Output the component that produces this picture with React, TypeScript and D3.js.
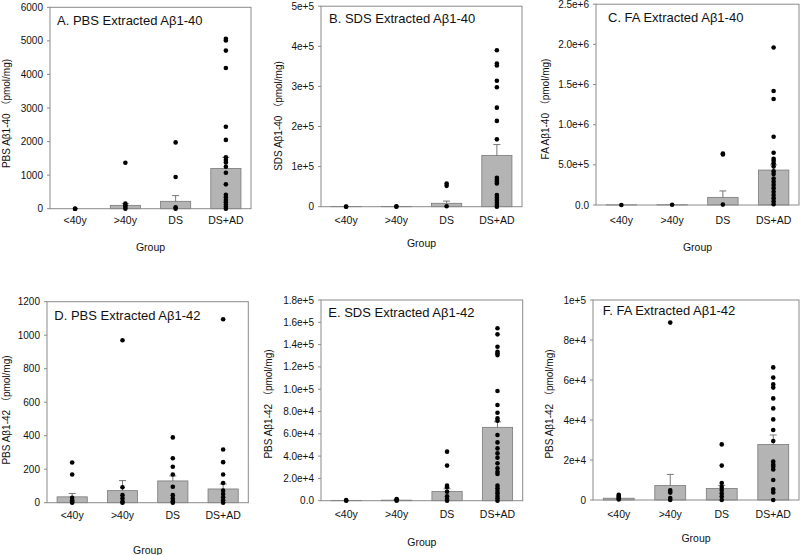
import React from "react";
import * as d3 from "d3";

// ---------- data ----------
const groups = ["<40y", ">40y", "DS", "DS+AD"];

// A. PBS Aβ1-40
const pbs40Means = [0, 100, 220, 1200];
const pbs40Sem = [0, 50, 170, 330];
const pbs40Points = [
  [0, 0, 0],
  [1370, 150, 100, 50, 0],
  [1975, 945, 40, 0],
  [5060, 5010, 4710, 4190, 2440, 2050, 1530, 1450, 1380, 1250, 1070, 725, 415, 340, 260, 190, 120, 60, 0],
];
const pbs40Ticks = [0, 1000, 2000, 3000, 4000, 5000, 6000];

// B. SDS Aβ1-40
const sds40Means = [500, 800, 8500, 128000];
const sds40Sem = [0, 0, 5500, 27000];
const sds40Points = [
  [0, 500],
  [1000, 0],
  [58000, 52000, 1000],
  [390000, 357000, 352000, 314000, 298000, 247000, 214000, 168000, 72000, 67000, 63000, 58000, 29000, 23000, 17000, 10000, 4000, 0],
];
const sds40Ticks = [0, 1e5, 2e5, 3e5, 4e5, 5e5];

// C. FA Aβ1-40
const fa40Means = [2000, 3000, 95000, 435000];
const fa40Sem = [0, 0, 80000, 65000];
const fa40Points = [
  [0],
  [3000],
  [640000, 630000, 5000],
  [1960000, 1420000, 1320000, 850000, 650000, 575000, 550000, 520000, 480000, 420000, 385000, 330000, 290000, 250000, 210000, 165000, 125000, 85000, 45000, 10000],
];
const fa40Ticks = [0, 5e5, 1e6, 1.5e6, 2e6, 2.5e6];

// D. PBS Aβ1-42
const pbs42Means = [35, 72, 130, 82];
const pbs42Sem = [20, 60, 30, 30];
const pbs42Points = [
  [240, 168, 30, 15, 5, 0],
  [970, 92, 45, 25, 5, 0],
  [390, 265, 215, 168, 95, 45, 25, 8, 0],
  [1095, 318, 242, 168, 118, 72, 52, 32, 15, 0],
];
const pbs42Ticks = [0, 200, 400, 600, 800, 1000, 1200];

// E. SDS Aβ1-42
const sds42Means = [300, 500, 8200, 65800];
const sds42Sem = [0, 100, 2500, 5000];
const sds42Points = [
  [500, 0],
  [1500, 800, 0],
  [44000, 31500, 13500, 12000, 8000, 4000, 1500, 0],
  [154600, 149200, 138100, 133600, 132100, 130600, 98400, 85800, 78900, 73800, 71700, 58900, 52300, 46900, 42500, 38600, 33500, 29000, 26000, 23900, 13500, 11100, 8700, 6600, 4200, 2100, 0],
];
const sds42Ticks = [0, 2e4, 4e4, 6e4, 8e4, 1e5, 1.2e5, 1.4e5, 1.6e5, 1.8e5];

// F. FA Aβ1-42
const fa42Means = [900, 7200, 5800, 27800];
const fa42Sem = [0, 5600, 1500, 4700];
const fa42Points = [
  [2600, 2000, 1500, 800, 300],
  [88700, 4800, 3700, 1000, 0],
  [27800, 17200, 8500, 6500, 5000, 3300, 1700, 0],
  [66300, 61200, 57800, 56200, 50800, 45800, 40300, 35000, 29500, 19200, 17800, 16700, 15300, 10000, 5300, 3800, 0],
];
const fa42Ticks = [0, 2e4, 4e4, 6e4, 8e4, 1e5];

// ---------- formatting ----------
const fmtInt = (v: number) => d3.format("d")(v);
const fmtExp0 = (v: number) => (v === 0 ? "0" : v.toExponential(0));
const fmtExp1 = (v: number) => (v === 0 ? "0.0" : v.toExponential(1));

const FONT = "'Liberation Sans', Arial, 'Noto Sans CJK SC', sans-serif";

type PanelSpec = {
  title: string;
  ylabel: string;
  means: number[];
  sem: number[];
  points: number[][];
  ticks: number[];
  fmt: (v: number) => string;
  box: { l: number; r: number; t: number; b: number };
  titlePos: [number, number];
  ylabPos: [number, number];
  catY: number;
  groupY: number;
};

const panels: PanelSpec[] = [
  {
    title: "A. PBS Extracted Aβ1-40", ylabel: "PBS Aβ1-40 （pmol/mg)",
    means: pbs40Means, sem: pbs40Sem, points: pbs40Points, ticks: pbs40Ticks, fmt: fmtInt,
    box: { l: 50, r: 251, t: 7.3, b: 208.7 }, titlePos: [57, 25], ylabPos: [6, 113.5], catY: 223.5, groupY: 250.5,
  },
  {
    title: "B. SDS Extracted Aβ1-40", ylabel: "SDS Aβ1-40 （pmol/mg)",
    means: sds40Means, sem: sds40Sem, points: sds40Points, ticks: sds40Ticks, fmt: fmtExp0,
    box: { l: 321, r: 522, t: 6.2, b: 206.7 }, titlePos: [329, 23.3], ylabPos: [278, 116], catY: 223.5, groupY: 247,
  },
  {
    title: "C. FA Extracted Aβ1-40", ylabel: "FA Aβ1-40 （pmol/mg)",
    means: fa40Means, sem: fa40Sem, points: fa40Points, ticks: fa40Ticks, fmt: fmtExp1,
    box: { l: 596, r: 799, t: 4.2, b: 205 }, titlePos: [608, 21.7], ylabPos: [545.5, 109], catY: 223.5, groupY: 250.5,
  },
  {
    title: "D. PBS Extracted Aβ1-42", ylabel: "PBS Aβ1-42 （pmol/mg)",
    means: pbs42Means, sem: pbs42Sem, points: pbs42Points, ticks: pbs42Ticks, fmt: fmtInt,
    box: { l: 47, r: 248.3, t: 301.7, b: 502.7 }, titlePos: [54.3, 320], ylabPos: [6, 410], catY: 518.5, groupY: 553.5,
  },
  {
    title: "E. SDS Extracted Aβ1-42", ylabel: "PBS Aβ1-42 （pmol/mg)",
    means: sds42Means, sem: sds42Sem, points: sds42Points, ticks: sds42Ticks, fmt: fmtExp1,
    box: { l: 321, r: 522.7, t: 300, b: 500.7 }, titlePos: [328.3, 316.7], ylabPos: [268.5, 404], catY: 518, groupY: 545.5,
  },
  {
    title: "F. FA Extracted Aβ1-42", ylabel: "PBS Aβ1-42 （pmol/mg)",
    means: fa42Means, sem: fa42Sem, points: fa42Points, ticks: fa42Ticks, fmt: fmtExp0,
    box: { l: 593, r: 799, t: 300, b: 500 }, titlePos: [602.7, 315], ylabPos: [549, 404], catY: 518, groupY: 542,
  },
];

function Panel({ p }: { p: PanelSpec }) {
  const { l, r, t, b } = p.box;
  const x = d3.scaleBand<string>().domain(groups).range([l, r]).paddingInner(0.4).paddingOuter(0.2);
  const y = d3.scaleLinear().domain([0, p.ticks[p.ticks.length - 1]]).range([b, t]);
  const bw = x.bandwidth();
  const gray = "#8a8a8a";
  return (
    <g>
      {/* bars */}
      {groups.map((g, i) => {
        const x0 = x(g)!;
        const yt = y(p.means[i]);
        return (
          <rect key={"bar" + i} x={x0} y={yt} width={bw} height={Math.max(0, b - yt)}
            fill="#b4b4b4" stroke="#7a7a7a" strokeWidth={0.8} />
        );
      })}
      {/* error bars */}
      {groups.map((g, i) => {
        if (!p.sem[i]) return null;
        const cx = x(g)! + bw / 2;
        const y0 = y(p.means[i]);
        const y1 = y(p.means[i] + p.sem[i]);
        return (
          <g key={"err" + i} stroke="#6a6a6a" strokeWidth={0.9}>
            <line x1={cx} x2={cx} y1={y0} y2={y1} />
            <line x1={cx - 3.5} x2={cx + 3.5} y1={y1} y2={y1} />
          </g>
        );
      })}
      {/* frame */}
      <rect x={l} y={t} width={r - l} height={b - t} fill="none" stroke={gray} strokeWidth={1} />
      {/* y ticks */}
      {p.ticks.map((v, i) => (
        <g key={"tk" + i}>
          <line x1={l - 3} x2={l} y1={y(v)} y2={y(v)} stroke={gray} strokeWidth={1} />
          <text x={l - 7} y={y(v)} dy="0.35em" textAnchor="end" fontSize={10} fill="#111" fontFamily={FONT}>
            {p.fmt(v)}
          </text>
        </g>
      ))}
      {/* points */}
      {groups.map((g, i) =>
        p.points[i].map((v, j) => (
          <circle key={"pt" + i + "_" + j} cx={x(g)! + bw / 2} cy={y(v)} r={2.3} fill="#000" />
        ))
      )}
      {/* category labels */}
      {groups.map((g, i) => (
        <text key={"cat" + i} x={x(g)! + bw / 2} y={p.catY} textAnchor="middle" fontSize={10.5} fill="#111" fontFamily={FONT}>
          {g}
        </text>
      ))}
      <text x={(l + r) / 2} y={p.groupY} textAnchor="middle" fontSize={10.5} fill="#111" fontFamily={FONT}>
        Group
      </text>
      <text x={p.titlePos[0]} y={p.titlePos[1]} fontSize={13} fill="#111" fontFamily={FONT}>
        {p.title}
      </text>
      <text
        transform={`translate(${p.ylabPos[0]},${p.ylabPos[1]}) rotate(-90)`}
        textAnchor="middle" dominantBaseline="central" fontSize={10} fill="#111" fontFamily={FONT}
      >
        {p.ylabel}
      </text>
    </g>
  );
}

export default function App() {
  return (
    <svg width={800} height={555} style={{ position: "absolute", left: 0, top: 0, background: "#fff" }}>
      <rect x={0} y={0} width={800} height={555} fill="#fff" />
      {panels.map((p, i) => (
        <Panel key={i} p={p} />
      ))}
    </svg>
  );
}
